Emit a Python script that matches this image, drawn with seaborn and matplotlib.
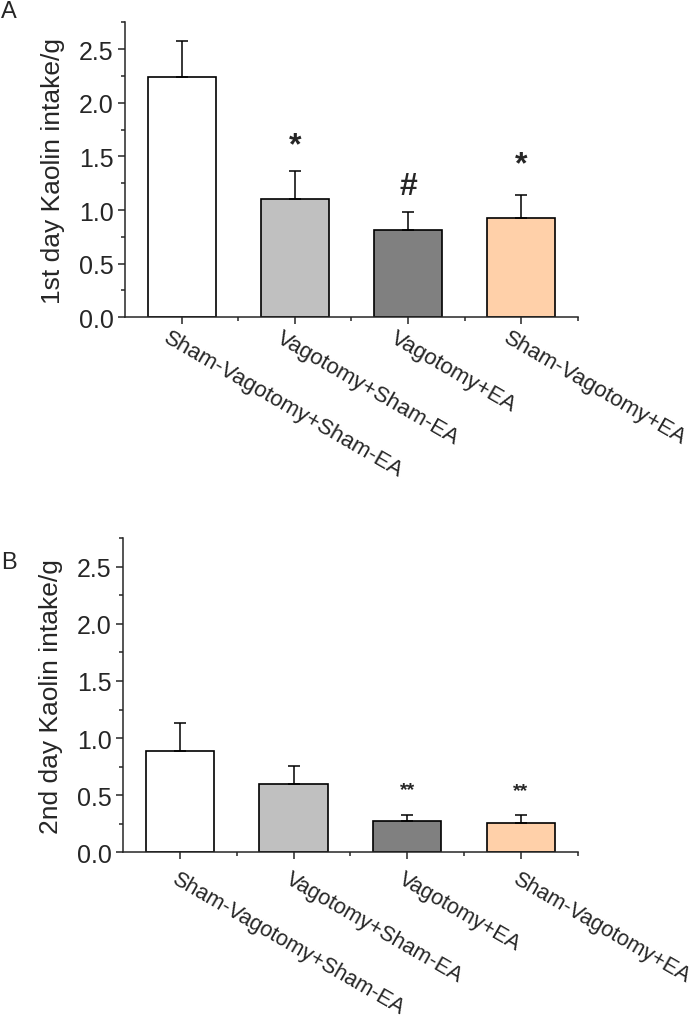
import numpy as np
import pandas as pd
import matplotlib
matplotlib.use("Agg")
import matplotlib.pyplot as plt
import matplotlib.transforms as mtransforms
import seaborn as sns
from matplotlib.ticker import MultipleLocator, FixedLocator

# groups and colours
groups = ["Sham-Vagotomy+Sham-EA", "Vagotomy+Sham-EA", "Vagotomy+EA", "Sham-Vagotomy+EA"]
bar_colors = ["#FFFFFF", "#C0C0C0", "#808080", "#FFD0A9"]

# day 1 kaolin intake (mean, SEM)
day1_mean = [2.24, 1.10, 0.81, 0.93]
day1_sem = [0.34, 0.26, 0.17, 0.21]
day1_marks = ["", "*", "#", "*"]
day1_mark_y = [0, 1.60, 1.22, 1.43]

# day 2 kaolin intake (mean, SEM)
day2_mean = [0.89, 0.60, 0.27, 0.26]
day2_sem = [0.24, 0.16, 0.06, 0.07]
day2_marks = ["", "", "**", "**"]
day2_mark_y = [0, 0, 0.55, 0.54]

sns.set_style("ticks")
plt.rcParams["font.family"] = ["Liberation Sans", "DejaVu Sans"]
plt.rcParams["axes.linewidth"] = 1.1


def draw_panel(ax, means, sems, marks, mark_y, ylabel, label_pad, label_dx, mark_size,
               label_size=16):
    df = pd.DataFrame({"group": groups, "value": means})
    sns.barplot(
        data=df, x="group", y="value", hue="group", order=groups, hue_order=groups,
        palette=bar_colors, edgecolor="black", linewidth=1.2, width=0.6,
        errorbar=None, legend=False, ax=ax, saturation=1
    )
    ax.errorbar(
        np.arange(len(groups)), means, yerr=[np.zeros(len(sems)), sems],
        fmt="none", ecolor="black", elinewidth=1.1, capsize=4, capthick=1.1, zorder=3
    )
    for i, (m, y) in enumerate(zip(marks, mark_y)):
        if m:
            ax.text(i, y, m, ha="center", va="center", fontsize=mark_size, fontweight="bold")

    ax.set_xlim(-0.5, 3.5)
    ax.set_ylim(0, 2.75)
    ax.yaxis.set_minor_locator(MultipleLocator(0.25))
    ticks = np.arange(0, 2.51, 0.5)
    ax.set_yticks(ticks)
    ax.set_yticklabels([f"{v:.1f}" for v in ticks], fontsize=18)
    ax.set_xticks(range(len(groups)))
    ax.xaxis.set_minor_locator(FixedLocator([0.5, 1.5, 2.5, 3.5]))
    ax.tick_params(axis="both", which="major", length=5, width=1.1, direction="out")
    ax.tick_params(axis="both", which="minor", length=3, width=1.1, direction="out")
    ax.tick_params(axis="x", which="major", pad=label_pad)
    ax.tick_params(axis="y", which="major", pad=3)
    ax.set_xticklabels(groups, rotation=-30, ha="left", va="top",
                       rotation_mode="anchor", fontsize=label_size)
    # nudge the slanted labels sideways (after tick_params, which resets transforms)
    shift = mtransforms.ScaledTranslation(label_dx / 72, 0, ax.figure.dpi_scale_trans)
    for lbl in ax.get_xticklabels():
        lbl.set_transform(lbl.get_transform() + shift)
    ax.set_xlabel("")
    ax.set_ylabel(ylabel, fontsize=19, labelpad=10)
    sns.despine(ax=ax)


fig = plt.figure(figsize=(6.98, 10.20), dpi=100)
ax1 = fig.add_axes([0.179, 0.688, 0.649, 0.289])
ax2 = fig.add_axes([0.176, 0.1634, 0.652, 0.308])

draw_panel(ax1, day1_mean, day1_sem, day1_marks, day1_mark_y,
           "1st day Kaolin intake/g", 2.2, -8, 23)
draw_panel(ax2, day2_mean, day2_sem, day2_marks, day2_mark_y,
           "2nd day Kaolin intake/g", 6, -1, 14, label_size=15.6)

fig.text(0.002, 0.999, "A", fontsize=17, ha="left", va="top")
fig.text(0.002, 0.459, "B", fontsize=17, ha="left", va="top")

fig.savefig("out.png", dpi=100)
